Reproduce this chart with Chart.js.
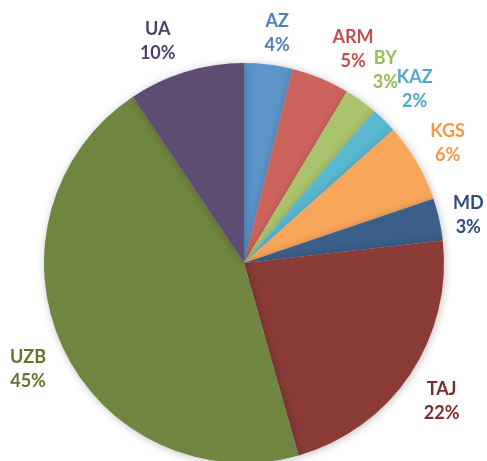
<!DOCTYPE html>
<html>
<head>
<meta charset="utf-8">
<script src="https://cdn.jsdelivr.net/npm/chart.js@4.4.1/dist/chart.umd.min.js"></script>
<style>
  html, body { margin: 0; padding: 0; background: #fff; overflow: hidden; }
  #wrap { width: 487px; height: 461px; overflow: hidden; }
</style>
</head>
<body>
<div id="wrap"><canvas id="pie" width="487" height="470"></canvas></div>
<script>
// slices, clockwise from 12 o'clock
const labels = ['AZ', 'ARM', 'BY', 'KAZ', 'KGS', 'MD', 'TAJ', 'UZB', 'UA'];
const shares = [3.9, 4.7, 2.7, 2.1, 6.4, 3.4, 22.4, 45.0, 9.4];
const pctText = ['4%', '5%', '3%', '2%', '6%', '3%', '22%', '45%', '10%'];

const fills = ['#5D95CA', '#CC645D', '#A9C46C', '#5AB7D0', '#F8A65A', '#3A5F88', '#8A3B37', '#6F8640', '#5F4C73'];
const inks  = ['#4F81BD', '#C0504D', '#9BBB59', '#4BACC6', '#F79646', '#2B4C7C', '#7A2E2B', '#5F7530', '#4E3F66'];
// small nudges for crowded labels [dx, dy]
const nudge = [[4, 6], [18, 6], [2, 0], [4, -4], [-2, 0], [-8, 4], [0, 6], [0, 6], [-17, 6]];

// soft shadow under the pie
const shadow = {
  id: 'shadow',
  beforeDatasetsDraw(chart) {
    const c = chart.ctx;
    c.save();
    c.shadowColor = 'rgba(0,0,0,0.25)';
    c.shadowBlur = 8;
    c.shadowOffsetX = 1;
    c.shadowOffsetY = 1;
  },
  afterDatasetsDraw(chart) { chart.ctx.restore(); }
};

// outside labels: name over percent, in slice colour
const outLabels = {
  id: 'outLabels',
  afterDraw(chart) {
    const c = chart.ctx;
    const arcs = chart.getDatasetMeta(0).data;
    c.save();
    c.font = 'bold 18px Lato, "Open Sans", sans-serif';
    c.textAlign = 'center';
    c.textBaseline = 'middle';
    arcs.forEach((a, i) => {
      const mid = (a.startAngle + a.endAngle) / 2;
      const r = a.outerRadius + 38;
      const x = a.x + Math.cos(mid) * r + nudge[i][0];
      const y = a.y + Math.sin(mid) * r + nudge[i][1];
      c.fillStyle = inks[i];
      c.fillText(labels[i], x, y - 12);
      c.fillText(pctText[i], x, y + 12);
    });
    c.restore();
  }
};

new Chart(document.getElementById('pie'), {
  type: 'pie',
  data: {
    labels,
    datasets: [{
      data: shares,
      backgroundColor: fills,
      borderWidth: 0
    }]
  },
  options: {
    responsive: false,
    animation: false,
    layout: { padding: { left: 44, right: 43, top: 63, bottom: 7 } },
    plugins: {
      legend: { display: false },
      tooltip: { enabled: false }
    }
  },
  plugins: [shadow, outLabels]
});
</script>
</body>
</html>
